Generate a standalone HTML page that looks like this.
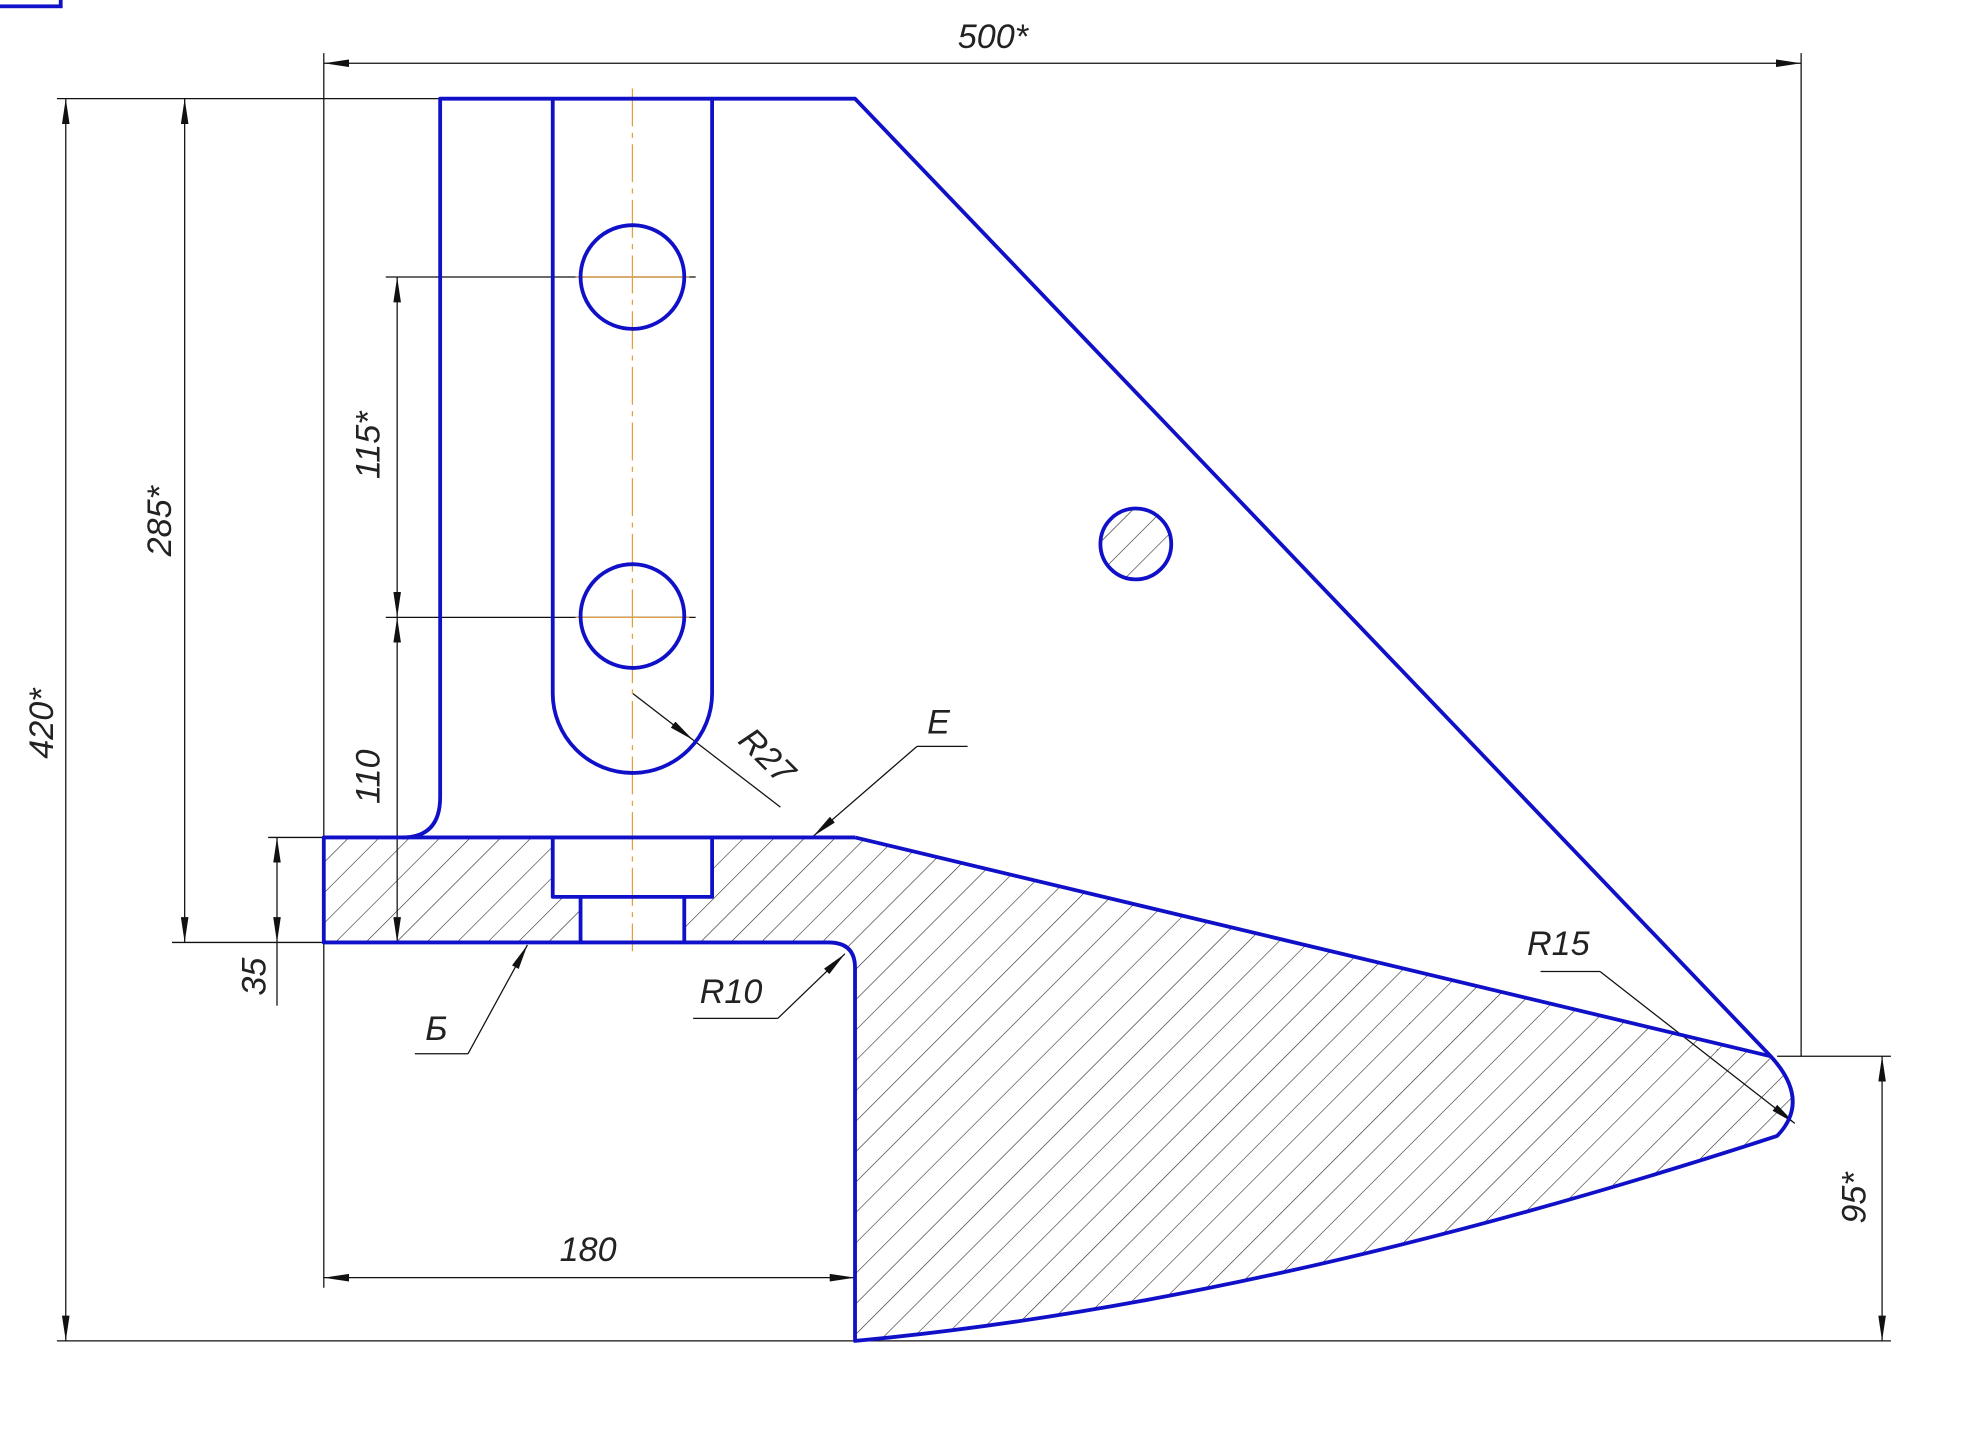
<!DOCTYPE html>
<html><head><meta charset="utf-8"><style>html,body{margin:0;padding:0;background:#fff;}svg{display:block}</style></head>
<body>
<svg width="1982" height="1432" viewBox="0 0 1567 1132" preserveAspectRatio="none" xmlns="http://www.w3.org/2000/svg">
<defs>
<pattern id="h" patternUnits="userSpaceOnUse" width="17" height="17" patternTransform="rotate(45)">
<line x1="0" y1="0" x2="0" y2="17" stroke="#222" stroke-width="0.9"/>
</pattern>
<marker id="a" viewBox="0 0 20 6" refX="20" refY="3" markerWidth="20" markerHeight="6" orient="auto-start-reverse" markerUnits="userSpaceOnUse">
<path d="M0,0 L20,3 L0,6 z" fill="#111"/>
</marker>
</defs>
<rect x="0" y="0" width="1567" height="1132" fill="#fff"/>
<rect x="-2" y="-2" width="50" height="7" fill="none" stroke="#1010c8" stroke-width="3"/>
<path d="M256,662 L437,662 L437,709 L459,709 L459,745 L256,745 Z" fill="url(#h)"/>
<path d="M563,662 L676,662 L1400,835 Q1432,870 1405,898 Q1000,1030 676,1060 L676,765 Q676,745 655,745 L541,745 L541,709 L563,709 Z" fill="url(#h)"/>
<circle cx="898" cy="430" r="28" fill="url(#h)"/>
<g stroke="#111" stroke-width="1" fill="none">
<line x1="256" y1="42" x2="256" y2="1018"/>
<line x1="1424" y1="42" x2="1424" y2="835"/>
<line x1="45" y1="78" x2="348" y2="78"/>
<line x1="45" y1="1060" x2="1495" y2="1060"/>
<line x1="1405" y1="835" x2="1495" y2="835"/>
<line x1="136" y1="745" x2="256" y2="745"/>
<line x1="212" y1="662" x2="256" y2="662"/>
<line x1="219" y1="745" x2="219" y2="795"/>
<line x1="305" y1="219" x2="550" y2="219"/>
<line x1="305" y1="488" x2="550" y2="488"/>
<line x1="256" y1="50" x2="1424" y2="50" marker-start="url(#a)" marker-end="url(#a)"/>
<line x1="52" y1="78" x2="52" y2="1060" marker-start="url(#a)" marker-end="url(#a)"/>
<line x1="146" y1="78" x2="146" y2="745" marker-start="url(#a)" marker-end="url(#a)"/>
<line x1="314" y1="219" x2="314" y2="488" marker-start="url(#a)" marker-end="url(#a)"/>
<line x1="314" y1="488" x2="314" y2="745" marker-start="url(#a)" marker-end="url(#a)"/>
<line x1="219" y1="662" x2="219" y2="745" marker-start="url(#a)" marker-end="url(#a)"/>
<line x1="1488" y1="835" x2="1488" y2="1060" marker-start="url(#a)" marker-end="url(#a)"/>
<line x1="256" y1="1010" x2="676" y2="1010" marker-start="url(#a)" marker-end="url(#a)"/>
<line x1="765" y1="590" x2="725" y2="590"/>
<line x1="725" y1="590" x2="643" y2="661" marker-end="url(#a)"/>
<line x1="617" y1="638" x2="548" y2="585"/>
<line x1="500" y1="548" x2="548" y2="585" marker-end="url(#a)"/>
<line x1="328" y1="833" x2="370" y2="833"/>
<line x1="370" y1="833" x2="417" y2="747" marker-end="url(#a)"/>
<line x1="548" y1="805" x2="615" y2="805"/>
<line x1="615" y1="805" x2="668" y2="754" marker-end="url(#a)"/>
<line x1="1218" y1="768" x2="1265" y2="768"/>
<line x1="1265" y1="768" x2="1419" y2="888" marker-end="url(#a)"/>
</g>
<line x1="500" y1="70" x2="500" y2="752" stroke="#e0a040" stroke-width="1" stroke-dasharray="30,5,4,5"/>
<line x1="455" y1="219" x2="545" y2="219" stroke="#e0a040" stroke-width="1"/>
<line x1="455" y1="488" x2="545" y2="488" stroke="#e0a040" stroke-width="1"/>
<g stroke="#1010c8" stroke-width="3" fill="none" stroke-linejoin="round">
<path d="M348,78 L676,78 L1400,835 Q1432,870 1405,898 Q1000,1030 676,1060 L676,765 Q676,745 655,745 L256,745 L256,662 L318,662 Q348,662 348,630 Z"/>
<line x1="318" y1="662" x2="676" y2="662"/>
<line x1="676" y1="662" x2="1400" y2="835"/>
<path d="M437,78 L437,548 A63,63 0 0 0 563,548 L563,78"/>
<circle cx="500" cy="219" r="41"/>
<circle cx="500" cy="487" r="41"/>
<circle cx="898" cy="430" r="28"/>
<path d="M437,662 L437,709 L563,709 L563,662"/>
<path d="M459,709 L459,745 M541,709 L541,745"/>
</g>
<g font-family="Liberation Sans Narrow, Liberation Sans, sans-serif" font-style="italic" font-size="27" fill="#222" text-anchor="middle">
<text x="785" y="38">500*</text>
<text transform="translate(42,572) rotate(-90)">420*</text>
<text transform="translate(135,412) rotate(-90)">285*</text>
<text transform="translate(300,352) rotate(-90)">115*</text>
<text transform="translate(300,614) rotate(-90)">110</text>
<text transform="translate(210,772) rotate(-90)">35</text>
<text transform="translate(1475,947) rotate(-90)">95*</text>
<text x="465" y="997">180</text>
<text x="742" y="580">E</text>
<text x="345" y="822">Б</text>
<text x="578" y="793">R10</text>
<text x="1232" y="755">R15</text>
<text transform="translate(600,604) rotate(45)">R27</text>
</g>
</svg>
</body></html>
